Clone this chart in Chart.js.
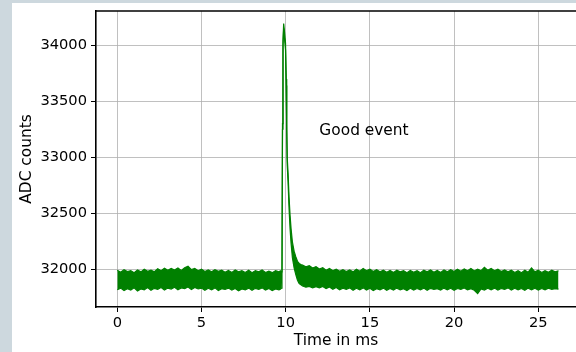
<!DOCTYPE html>
<html>
<head>
<meta charset="utf-8">
<script src="https://cdn.jsdelivr.net/npm/chart.js@4.4.1/dist/chart.umd.min.js"></script>
<style>
  html, body { margin: 0; padding: 0; background: #cdd8de; width: 576px; height: 352px; overflow: hidden; }
  #wrap { position: absolute; left: 12px; top: 3px; width: 564px; height: 349px; background: #ffffff; }
  canvas { display: block; }
</style>
</head>
<body>
<div id="wrap"><canvas id="c" width="564" height="349"></canvas></div>
<script>
// Sample times (ms)
const times = [
  0,0.2,0.4,0.6,0.8, 1,1.2,1.4,1.6,1.8, 2,2.2,2.4,2.6,2.8, 3,3.2,3.4,3.6,3.8,
  4,4.2,4.4,4.6,4.8, 5,5.2,5.4,5.6,5.8, 6,6.2,6.4,6.6,6.8, 7,7.2,7.4,7.6,7.8,
  8,8.2,8.4,8.6,8.8, 9,9.2,9.4,9.6,
  9.68,9.76,9.78,9.81,9.84,9.88,9.93,9.99,10.03,10.06,10.09,10.14,10.2,10.26,10.32,10.4,10.5,10.6,10.7,10.8,10.9,
  11,11.2,11.4,11.6,11.8, 12,12.2,12.4,12.6,12.8, 13,13.2,13.4,13.6,13.8, 14,14.2,14.4,14.6,14.8,
  15,15.2,15.4,15.6,15.8, 16,16.2,16.4,16.6,16.8, 17,17.2,17.4,17.6,17.8, 18,18.2,18.4,18.6,18.8,
  19,19.2,19.4,19.6,19.8, 20,20.2,20.4,20.6,20.8, 21,21.2,21.4,21.6,21.8, 22,22.2,22.4,22.6,22.8,
  23,23.2,23.4,23.6,23.8, 24,24.2,24.4,24.6,24.8, 25,25.2,25.4,25.6,25.8, 26,26.2
];
// Upper edge of the noisy ADC trace (counts)
const adcUpper = [
  31990,31972,31995,31978,31985, 31968,31992,31975,31998,31980, 31990,31976,32002,31985,32008, 31990,32005,31992,32010,31988,
  32012,32025,31995,32005,31985, 31998,31978,31992,31975,31995, 31980,31990,31972,31988,31970, 31992,31975,31985,31970,31990,
  31968,31985,31975,31992,31970, 31982,31968,31985,31975,
  31985,31975,32000,33300,34050,34195,34120,34020,33700,33300,33000,32860,32640,32480,32360,32240,32160,32110,32070,32050,32040,
  32035,32020,32030,32010,32022, 32000,32012,31990,32005,31985, 32000,31980,31995,31978,31992, 31975,31998,31980,32005,31985,
  32000,31978,31995,31975,31990, 31972,31988,31970,31990,31975, 31985,31968,31988,31972,31985, 31968,31990,31975,31992,31972,
  31988,31970,31992,31975,31995, 31978,31998,31980,32002,31985, 32005,31982,32000,31985,32015, 31990,32005,31985,31998,31978,
  31992,31975,31990,31970,31985, 31968,31990,31972,32010,31975, 31990,31970,31985,31972,31990, 31975,31985
];
// Lower edge of the noisy ADC trace (counts)
const adcLower = [
  31815,31830,31808,31825,31812, 31832,31805,31822,31815,31835, 31810,31828,31818,31835,31812, 31830,31822,31838,31815,31832,
  31825,31840,31818,31835,31822, 31830,31810,31828,31815,31832, 31808,31825,31818,31830,31812, 31826,31805,31822,31815,31830,
  31810,31828,31818,31832,31812, 31826,31808,31822,31815,
  31820,31830,31880,33250,34000,34150,34060,33960,33640,33240,32930,32780,32540,32360,32230,32100,32010,31950,31900,31870,31860,
  31850,31838,31845,31832,31842, 31832,31845,31825,31840,31820, 31835,31815,31830,31818,31832, 31810,31828,31815,31832,31812,
  31828,31808,31825,31815,31830, 31810,31826,31812,31830,31815, 31825,31808,31828,31812,31826, 31815,31830,31810,31828,31818,
  31825,31812,31830,31815,31828, 31810,31826,31818,31832,31815, 31825,31810,31780,31822,31812, 31828,31815,31830,31812,31826,
  31818,31832,31812,31828,31815, 31826,31810,31830,31815,31828, 31812,31826,31815,31830,31818, 31825,31820
];
const xTicks = [0, 5, 10, 15, 20, 25];
const yTicks = [32000, 32500, 33000, 33500, 34000];
const annotationText = "Good event";
const annotationPos = { x: 12, y: 33200 };

const FONT = "DejaVu Sans";
const FS = 14.67;
const FS_LABEL = 15.4;
const green = "#008000";

const upperPts = times.map((t, i) => ({ x: t, y: adcUpper[i] }));
const lowerPts = times.map((t, i) => ({ x: t, y: adcLower[i] }));

const extras = {
  id: "extras",
  afterDatasetsDraw(chart) {
    const { ctx, chartArea, scales } = chart;
    ctx.save();
    // top spine
    ctx.strokeStyle = "#000";
    ctx.lineWidth = 1.6;
    ctx.beginPath();
    ctx.moveTo(chartArea.left - 0.8, chartArea.top);
    ctx.lineTo(chartArea.right, chartArea.top);
    ctx.stroke();
    // annotation
    ctx.fillStyle = "#000";
    ctx.font = FS_LABEL + "px '" + FONT + "'";
    ctx.textAlign = "left";
    ctx.textBaseline = "alphabetic";
    ctx.fillText(annotationText, scales.x.getPixelForValue(annotationPos.x), scales.y.getPixelForValue(annotationPos.y));
    ctx.restore();
  }
};

new Chart(document.getElementById("c"), {
  type: "line",
  data: {
    datasets: [
      { data: upperPts, borderColor: green, backgroundColor: green, borderWidth: 1.2, pointRadius: 0, fill: "+1", tension: 0 },
      { data: lowerPts, borderColor: green, backgroundColor: green, borderWidth: 1.2, pointRadius: 0, fill: false, tension: 0 }
    ]
  },
  options: {
    responsive: false,
    animation: false,
    devicePixelRatio: 1,
    layout: { padding: { top: 8, right: 0, left: 0, bottom: 0 } },
    plugins: { legend: { display: false }, tooltip: { enabled: false } },
    scales: {
      x: {
        type: "linear",
        min: -1.265,
        max: 27.24,
        afterBuildTicks: s => { s.ticks = xTicks.map(v => ({ value: v })); },
        afterFit: s => { s.height = 45; s.paddingLeft = 0; s.paddingRight = 0; },
        grid: { color: "#b0b0b0", lineWidth: 0.8, tickColor: "#000", tickLength: 5, tickWidth: 1 },
        border: { color: "#000", width: 1.6 },
        ticks: { color: "#000", font: { family: FONT, size: FS }, padding: 2, maxRotation: 0, callback: v => String(v) },
        title: { display: true, text: "Time in ms", color: "#000", font: { family: FONT, size: FS_LABEL }, padding: { top: 0, bottom: 2 } }
      },
      y: {
        type: "linear",
        min: 31661,
        max: 34307,
        afterBuildTicks: s => { s.ticks = yTicks.map(v => ({ value: v })); },
        afterFit: s => { s.width = 84; s.paddingTop = 0; s.paddingBottom = 0; },
        grid: { color: "#b0b0b0", lineWidth: 0.8, tickColor: "#000", tickLength: 5, tickWidth: 1 },
        border: { color: "#000", width: 1.6 },
        ticks: { color: "#000", font: { family: FONT, size: FS }, padding: 4, callback: v => String(v) },
        title: { display: true, text: "ADC counts", color: "#000", font: { family: FONT, size: FS_LABEL }, padding: { top: 6, bottom: 0 } }
      }
    }
  },
  plugins: [extras]
});
</script>
</body>
</html>
